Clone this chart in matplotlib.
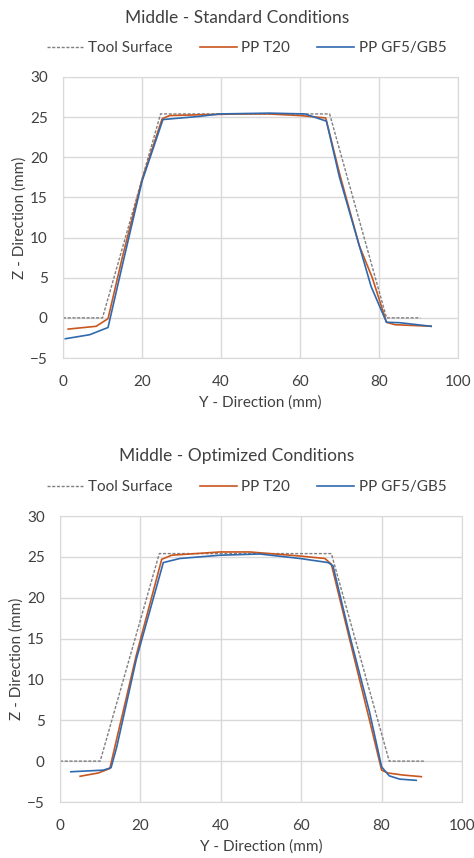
import matplotlib
matplotlib.use("Agg")
import matplotlib.pyplot as plt

plt.rcParams["font.family"] = ["Lato", "DejaVu Sans"]

# tool surface (same for both charts)
tool_y = [0, 10, 24.7, 67.5, 81.9, 90.5]
tool_z = [0, 0, 25.4, 25.4, 0, 0]

# Middle - Standard Conditions
std_t20_y = [1.3, 8.4, 11.4, 15, 20, 25.1, 27, 35, 45, 52, 60, 66.5, 70, 75, 78.3, 81.9, 84, 93.2]
std_t20_z = [-1.4, -1.05, -0.1, 7.5, 17.2, 24.8, 25.2, 25.3, 25.4, 25.4, 25.2, 24.9, 18, 9, 5, -0.55, -0.85, -1.05]
std_gf_y = [0.6, 6.75, 11.4, 15, 20, 25.3, 34.6, 39.7, 52.3, 61.2, 66.7, 70, 75, 78, 81.9, 85.2, 93.2]
std_gf_z = [-2.6, -2.1, -1.2, 6.5, 17, 24.7, 25.1, 25.4, 25.5, 25.4, 24.5, 17.5, 9, 3.9, -0.55, -0.6, -1.05]

# Middle - Optimized Conditions
opt_t20_y = [5, 9.5, 12.4, 14, 19, 25.3, 27.8, 39.8, 47.2, 59.7, 65.9, 67.5, 72, 77, 80, 81.6, 85.3, 89.9]
opt_t20_z = [-1.85, -1.45, -0.9, 2.5, 13, 24.7, 25.2, 25.6, 25.6, 25.1, 24.8, 24.1, 15, 5, -1.1, -1.45, -1.7, -1.9]
opt_gf_y = [2.7, 10.8, 12.7, 14.1, 19, 25.7, 29.8, 39.8, 49.7, 59.7, 66.7, 67.9, 72, 77, 80, 81.9, 84.5, 88.6]
opt_gf_z = [-1.3, -1.1, -0.8, 1.7, 12.5, 24.3, 24.8, 25.2, 25.35, 24.8, 24.3, 23.9, 15.5, 6, -0.7, -1.8, -2.2, -2.35]

orange = "#C9561F"
blue = "#3069AE"

fig = plt.figure(figsize=(4.74, 8.58), dpi=100)


def draw(ax, title, t20_y, t20_z, gf_y, gf_z, title_y, legend_y):
    ax.plot(tool_y, tool_z, color="#7F7F7F", lw=1.0, ls=(0, (2.2, 1.2)), label="Tool Surface")
    ax.plot(t20_y, t20_z, color=orange, lw=1.2, label="PP T20")
    ax.plot(gf_y, gf_z, color=blue, lw=1.2, label="PP GF5/GB5")
    ax.set_xlim(0, 100)
    ax.set_ylim(-5, 30)
    ax.set_xticks(range(0, 101, 20))
    ax.set_yticks(range(-5, 31, 5))
    ax.grid(True, color="#D9D9D9", lw=1.0)
    ax.set_axisbelow(True)
    for s in ax.spines.values():
        s.set_color("#D9D9D9")
    ax.tick_params(length=0, labelsize=11, colors="#404040")
    ax.tick_params(axis="x", pad=12)
    ax.tick_params(axis="y", pad=11)
    ax.set_xlabel("Y - Direction (mm)", fontsize=11, color="#404040", labelpad=5)
    ax.set_ylabel("Z - Direction (mm)", fontsize=11, color="#404040", labelpad=2)
    fig.text(0.5, title_y, title, ha="center", va="center", fontsize=12.5, color="#404040")
    fig.legend(*ax.get_legend_handles_labels(), loc="center", bbox_to_anchor=(0.52, legend_y),
               ncol=3, frameon=False, fontsize=11, handlelength=2.4, handletextpad=0.3,
               columnspacing=1.8, labelcolor="#404040")


ax1 = fig.add_axes([63 / 474, 1 - 358 / 858, (458 - 63) / 474, (358 - 77) / 858])
draw(ax1, "Middle - Standard Conditions", std_t20_y, std_t20_z, std_gf_y, std_gf_z,
     1 - 18 / 858, 1 - 48 / 858)

ax2 = fig.add_axes([60 / 474, 1 - 802 / 858, (462 - 60) / 474, (802 - 516) / 858])
draw(ax2, "Middle - Optimized Conditions", opt_t20_y, opt_t20_z, opt_gf_y, opt_gf_z,
     1 - 456 / 858, 1 - 487 / 858)

fig.savefig("out.png", dpi=100)
